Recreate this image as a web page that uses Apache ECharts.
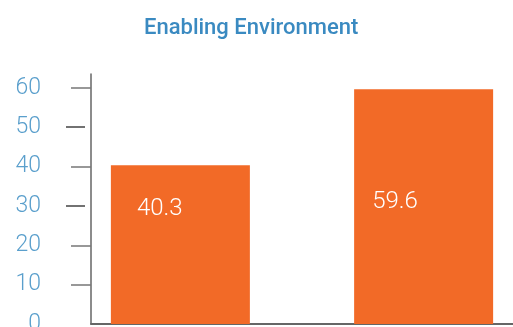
<!DOCTYPE html>
<html>
<head>
<meta charset="utf-8">
<script src="https://cdn.jsdelivr.net/npm/echarts@6/dist/echarts.min.js"></script>
<style>html,body{margin:0;padding:0;background:#fff}#c{width:513px;height:327px}</style>
</head>
<body>
<div id="c"></div>
<script>
const titleText = 'Enabling Environment';
const categories = [''];
const seriesNames = ['Bar A', 'Bar B'];
const values = [40.3, 59.6];
const yLabelValues = [0, 10, 20, 30, 40, 50, 60];
const yTicksNear = [10, 20, 40, 60];
const yTicksFar = [30, 50];

const chart = echarts.init(document.getElementById('c'), null, {renderer: 'canvas'});
const labelPos = [[26, 44], [18, 113]];
chart.setOption({
  animation: false,
  title: {
    text: titleText,
    left: 139,
    top: 12,
    textStyle: {fontFamily: 'Roboto', fontSize: 22, fontWeight: 500, color: '#3a8ac1'}
  },
  grid: {left: 91, right: 0, top: 74, bottom: 3, containLabel: false, outerBoundsMode: 'none'},
  xAxis: {
    type: 'category',
    data: categories,
    axisLine: {show: true, lineStyle: {color: '#666', width: 2}},
    axisTick: {show: false},
    axisLabel: {show: false},
    splitLine: {show: false}
  },
  yAxis: [{
    type: 'value',
    min: 0,
    max: 63.5,
    axisLine: {show: true, lineStyle: {color: '#666', width: 1.5}},
    axisTick: {show: true, length: 20, customValues: yTicksNear, lineStyle: {color: '#777', width: 1.5}},
    axisLabel: {customValues: yLabelValues, margin: 50, fontFamily: 'Roboto', fontSize: 23, fontWeight: 300, color: '#5a9fcc'},
    splitLine: {show: false}
  }, {
    type: 'value',
    min: 0,
    max: 63.5,
    position: 'left',
    offset: 6,
    axisLine: {show: false},
    axisTick: {show: true, length: 19, customValues: yTicksFar, lineStyle: {color: '#444', width: 1.5}},
    axisLabel: {show: false},
    splitLine: {show: false}
  }],
  series: seriesNames.map((name, i) => ({
    name: name,
    type: 'bar',
    yAxisIndex: 0,
    data: [values[i]],
    barWidth: 139,
    barGap: '75%',
    itemStyle: {color: '#f26a27'},
    label: {
      show: true,
      position: labelPos[i],
      align: 'left',
      verticalAlign: 'middle',
      fontFamily: 'Roboto',
      fontSize: 24,
      fontWeight: 300,
      color: '#fff',
      formatter: p => String(p.value)
    }
  }))
});
</script>
</body>
</html>
